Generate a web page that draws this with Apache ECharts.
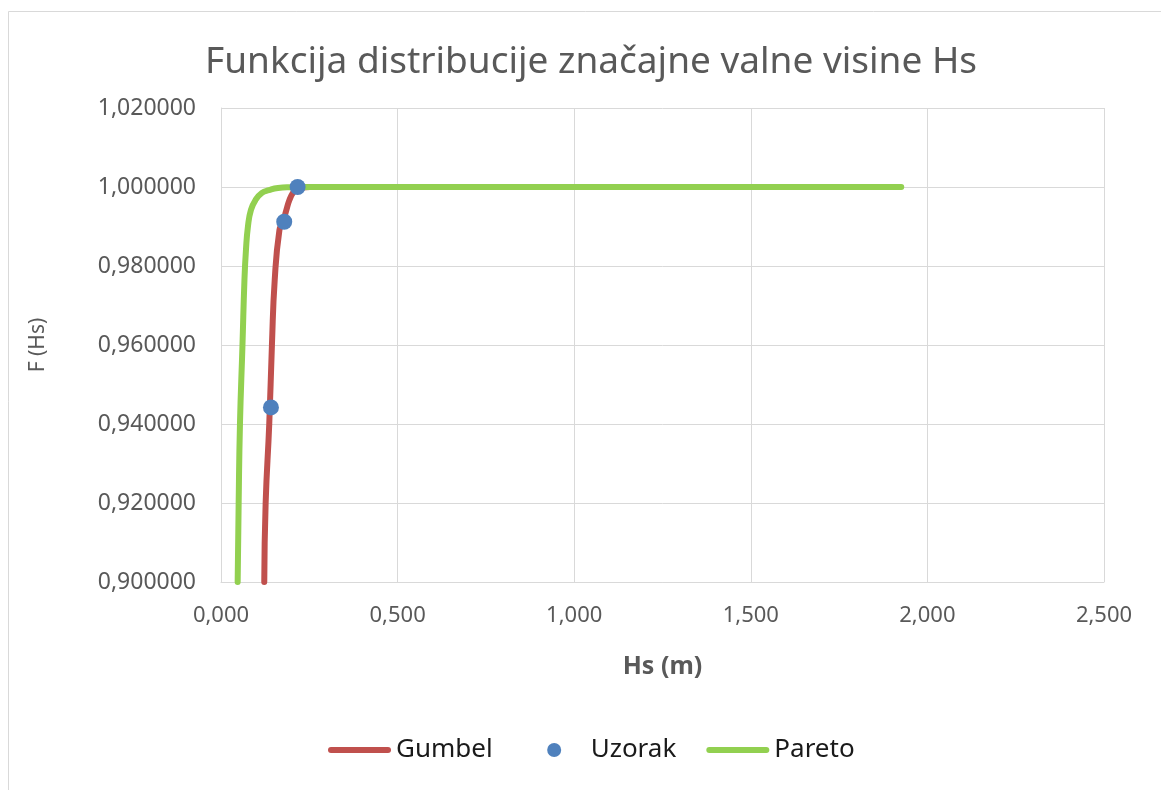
<!DOCTYPE html>
<html>
<head>
<meta charset="utf-8">
<style>
  html, body { margin: 0; padding: 0; background: #fff; }
  #chart { width: 1161px; height: 790px; }
</style>
<script src="https://cdn.jsdelivr.net/npm/echarts@6/dist/echarts.min.js"></script>
</head>
<body>
<div id="chart"></div>
<script>
// values
var gumbelX = [0.1225, 0.1264, 0.1366, 0.1442, 0.1521, 0.1654, 0.1753, 0.1852, 0.1937, 0.2036, 0.2121, 0.2262, 0.2517, 0.50];
var gumbelF = [0.9000, 0.9200, 0.9400, 0.9600, 0.9765, 0.9891, 0.9911, 0.9942, 0.9967, 0.9985, 0.9992, 0.99975, 1.0, 1.0];

var uzorakX = [0.1414, 0.1790, 0.2169];
var uzorakF = [0.9442, 0.9912, 1.0000];

var paretoX = [0.0472, 0.0500, 0.0537, 0.0608, 0.0664, 0.0707, 0.0764, 0.0848, 0.0976, 0.1159, 0.1357, 0.1612, 0.1952, 0.26, 1.926];
var paretoF = [0.9000, 0.9200, 0.9400, 0.9600, 0.9765, 0.9841, 0.9901, 0.9942, 0.9967, 0.9985, 0.9992, 0.99975, 0.99993, 1.0, 1.0];

var xTicks = { min: 0, max: 2.5, step: 0.5 };
var yTicks = { min: 0.9, max: 1.02, step: 0.02 };

function pairs(xs, ys) {
  return xs.map(function (x, i) { return [x, ys[i]]; });
}

var font = 'Noto Sans';
var grey = '#595959';
var lineIcon = 'path://M3,4L60,4A3,3,0,0,1,60,10L3,10A3,3,0,0,1,3,4ZM0,0L0,0M63,14L63,14';
// dot in the middle of a 63 x 14 box
var dotIcon = 'path://M24.5,7A7,7,0,1,1,38.5,7A7,7,0,1,1,24.5,7ZM0,0L0,0M63,14L63,14';

var myChart = echarts.init(document.getElementById('chart'));

var option = {
  animation: false,
  backgroundColor: '#fff',
  textStyle: { fontFamily: font },
  graphic: [{
    type: 'rect',
    shape: { x: 8.5, y: 11.5, width: 1200, height: 800 },
    style: { fill: 'none', stroke: '#d9d9d9', lineWidth: 1 },
    silent: true
  }],
  title: {
    text: 'Funkcija distribucije značajne valne visine Hs',
    left: 586,
    textAlign: 'center',
    top: 39,
    textStyle: { fontFamily: font, fontSize: 37, fontWeight: 'normal', color: grey }
  },
  legend: {
    bottom: 22,
    left: 323,
    itemWidth: 63,
    itemHeight: 14,
    itemGap: 30,
    textStyle: { fontFamily: font, fontSize: 26, color: '#1a1a1a' },
    data: [
      { name: 'Gumbel', icon: lineIcon },
      { name: 'Uzorak', icon: dotIcon },
      { name: 'Pareto', icon: lineIcon }
    ]
  },
  grid: { left: 221, right: 57, top: 108, bottom: 208 },
  xAxis: {
    type: 'value',
    min: xTicks.min,
    max: xTicks.max,
    interval: xTicks.step,
    name: 'Hs (m)',
    nameLocation: 'middle',
    nameGap: 72,
    nameTextStyle: { fontFamily: font, fontSize: 25, fontWeight: 'bold', color: grey },
    axisLine: { show: true, lineStyle: { color: '#d9d9d9' } },
    axisTick: { show: false },
    splitLine: { show: true, lineStyle: { color: '#d9d9d9', width: 1 } },
    axisLabel: {
      margin: 23,
      fontSize: 22,
      color: grey,
      formatter: function (v) { return v.toFixed(3).replace('.', ','); }
    }
  },
  yAxis: {
    type: 'value',
    min: yTicks.min,
    max: yTicks.max,
    interval: yTicks.step,
    name: 'F (Hs)',
    nameLocation: 'middle',
    nameGap: 172,
    nameTextStyle: { fontFamily: font, fontSize: 21, color: grey },
    axisLine: { show: true, lineStyle: { color: '#d9d9d9' } },
    axisTick: { show: false },
    splitLine: { show: true, lineStyle: { color: '#d9d9d9', width: 1 } },
    axisLabel: {
      margin: 25,
      fontSize: 23,
      color: grey,
      formatter: function (v) { return v.toFixed(6).replace('.', ','); }
    }
  },
  series: [
    {
      name: 'Gumbel',
      type: 'line',
      z: 2,
      symbol: 'none',
      smooth: 0.5,
      lineStyle: { color: '#c0504d', width: 6, cap: 'round', join: 'round' },
      itemStyle: { color: '#c0504d' },
      data: pairs(gumbelX, gumbelF)
    },
    {
      name: 'Uzorak',
      type: 'scatter',
      z: 4,
      symbol: 'circle',
      symbolSize: 16,
      itemStyle: { color: '#4f81bd', opacity: 1 },
      data: pairs(uzorakX, uzorakF)
    },
    {
      name: 'Pareto',
      type: 'line',
      z: 3,
      symbol: 'none',
      smooth: 0.5,
      lineStyle: { color: '#92d050', width: 6, cap: 'round', join: 'round' },
      itemStyle: { color: '#92d050' },
      data: pairs(paretoX, paretoF)
    }
  ]
};

option && myChart.setOption(option);
</script>
</body>
</html>
